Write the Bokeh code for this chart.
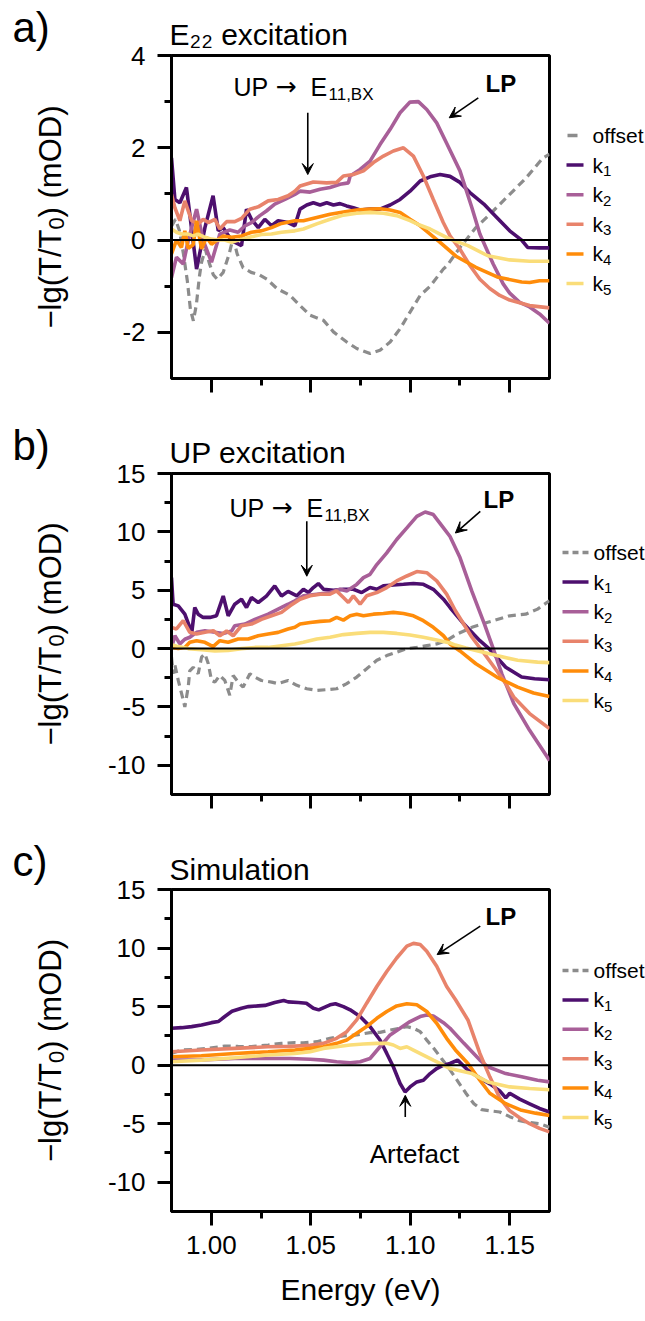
import math
from bokeh.plotting import figure
from bokeh.layouts import column, row
from bokeh.models import Label, Arrow, VeeHead, Span, FixedTicker, Range1d, Title
from bokeh.embed import file_html
from bokeh.resources import INLINE

FONT = "Liberation Sans"

# ---------------- data (energy eV, -lg(T/T0) mOD) ----------------
series_names = ["offset", "k1", "k2", "k3", "k4", "k5"]
energy_ticks = [1.00, 1.05, 1.10, 1.15]
energy_minor = [1.025, 1.075, 1.125]
a_yticks = [-2, 0, 2, 4]
a_yminor = [-1, 1, 3]
bc_yticks = [-10, -5, 0, 5, 10, 15]
bc_yminor = [-7.5, -2.5, 2.5, 7.5, 12.5]
titles = ["E\u2082\u2082 excitation", "UP excitation", "Simulation"]
letters = ["a)", "b)", "c)"]

# Panel a) E22 excitation
a_offset = [(0.980, 0.3), (0.982, 0.45), (0.984, 0.2), (0.986, -0.3), (0.988, -0.9), (0.9895, -1.5),
            (0.991, -1.75), (0.9925, -1.4), (0.994, -0.8), (0.995, -0.5), (0.997, -0.2), (0.999, -0.5),
            (1.001, -0.75), (1.003, -0.85), (1.006, -0.7), (1.009, -0.3), (1.011, 0.05), (1.013, -0.3),
            (1.016, -0.6), (1.020, -0.7), (1.024, -0.75), (1.028, -0.85), (1.033, -1.05), (1.0396, -1.2),
            (1.0446, -1.42), (1.0497, -1.63), (1.0564, -1.74), (1.0614, -1.99), (1.0681, -2.21),
            (1.0731, -2.35), (1.0798, -2.46), (1.0848, -2.39), (1.0899, -2.21), (1.0949, -1.92),
            (1.0999, -1.56), (1.105, -1.2), (1.11, -1.0), (1.1166, -0.63), (1.1186, -0.55), (1.125, -0.16),
            (1.133, 0.27), (1.1417, 0.63), (1.150, 0.99), (1.1583, 1.35), (1.1667, 1.78), (1.170, 1.86)]
a_k1 = [(0.980, 1.78), (0.9817, 0.88), (0.9842, 0.81), (0.9875, 1.14), (0.9892, 0.56), (0.9926, -0.63),
        (0.9968, 0.27), (1.0009, 0.96), (1.0035, 0.2), (1.006, 0.27), (1.0102, -0.01), (1.0152, -0.12),
        (1.0177, 0.67), (1.0202, 0.45), (1.0236, 0.27), (1.0269, 0.45), (1.0303, 0.31), (1.0336, 0.42),
        (1.0386, 0.38), (1.0420, 0.31), (1.0446, 0.67), (1.048, 0.76), (1.0513, 0.81), (1.0547, 0.76),
        (1.058, 0.81), (1.0614, 0.76), (1.0647, 0.79), (1.068, 0.74), (1.0714, 0.70), (1.0748, 0.65),
        (1.0798, 0.67), (1.0848, 0.67), (1.0899, 0.76), (1.0949, 0.88), (1.0999, 1.06), (1.105, 1.28),
        (1.11, 1.37), (1.115, 1.42), (1.12, 1.38), (1.125, 1.25), (1.130, 1.03), (1.137, 0.78),
        (1.1435, 0.49), (1.150, 0.2), (1.156, 0.0), (1.159, -0.16), (1.165, -0.17), (1.170, -0.17)]
a_k2 = [(0.980, -0.81), (0.9825, -0.37), (0.9859, -0.52), (0.9884, -0.01), (0.9926, 0.67), (0.9959, 0.0),
        (1.0001, -0.48), (1.0043, 0.13), (1.0093, 0.22), (1.0135, 0.17), (1.0169, 0.31), (1.0202, 0.38),
        (1.0244, 0.53), (1.0277, 0.63), (1.0319, 0.78), (1.037, 0.88), (1.042, 0.99), (1.0446, 1.06),
        (1.0497, 1.04), (1.0547, 1.10), (1.0597, 1.14), (1.0647, 1.21), (1.0689, 1.24), (1.0698, 1.39),
        (1.0748, 1.53), (1.0798, 1.71), (1.0848, 2.07), (1.0899, 2.40), (1.0949, 2.76), (1.0999, 2.99),
        (1.1041, 3.0), (1.1083, 2.83), (1.1133, 2.54), (1.1183, 2.1), (1.125, 1.5), (1.131, 0.7),
        (1.135, 0.13), (1.1417, -0.52), (1.1467, -0.95), (1.150, -1.15), (1.155, -1.35), (1.160, -1.45),
        (1.165, -1.6), (1.170, -1.8)]
a_k3 = [(0.980, 0.99), (0.9817, 0.7), (0.9842, 0.42), (0.9867, 0.85), (0.9901, 0.42), (0.9934, 0.35),
        (0.9959, 0.45), (0.9985, 0.38), (1.0018, 0.45), (1.0043, 0.24), (1.0077, 0.4), (1.0118, 0.4),
        (1.0152, 0.47), (1.0194, 0.67), (1.0236, 0.72), (1.0286, 0.85), (1.0336, 0.88), (1.0386, 0.96),
        (1.042, 1.06), (1.0446, 1.17), (1.0513, 1.26), (1.058, 1.24), (1.063, 1.25), (1.0664, 1.39),
        (1.0714, 1.42), (1.0765, 1.5), (1.0815, 1.68), (1.0865, 1.82), (1.0915, 1.93), (1.0966, 2.0),
        (1.1016, 1.82), (1.1066, 1.39), (1.1116, 0.88), (1.1166, 0.38), (1.12, 0.09), (1.125, -0.2),
        (1.130, -0.55), (1.135, -0.85), (1.140, -1.05), (1.145, -1.2), (1.150, -1.3), (1.160, -1.42),
        (1.170, -1.47)]
a_k4 = [(0.980, -0.3), (0.9825, 0.0), (0.985, -0.16), (0.9867, 0.2), (0.9884, -0.18), (0.9909, -0.1),
        (0.9926, 0.42), (0.9951, -0.19), (0.9976, 0.06), (1.0001, -0.09), (1.0026, -0.01), (1.006, 0.09),
        (1.0102, 0.06), (1.0152, 0.09), (1.0202, 0.17), (1.0252, 0.2), (1.0303, 0.27), (1.0353, 0.36),
        (1.042, 0.42), (1.0463, 0.42), (1.053, 0.49), (1.0597, 0.56), (1.0664, 0.61), (1.0731, 0.65),
        (1.0798, 0.67), (1.0848, 0.68), (1.0899, 0.65), (1.0949, 0.6), (1.0999, 0.45), (1.105, 0.31),
        (1.11, 0.13), (1.115, -0.05), (1.123, -0.35), (1.133, -0.59), (1.1437, -0.8), (1.156, -0.91),
        (1.160, -0.92), (1.165, -0.88), (1.170, -0.88)]
a_k5 = [(0.980, 0.24), (0.9825, 0.17), (0.985, 0.13), (0.9884, 0.13), (0.9909, 0.09), (0.9934, 0.13),
        (0.9968, 0.06), (1.0001, 0.02), (1.0035, 0.0), (1.0068, 0.0), (1.0102, -0.05), (1.0152, 0.02),
        (1.0202, 0.07), (1.0252, 0.12), (1.0303, 0.13), (1.0353, 0.17), (1.042, 0.2), (1.0463, 0.24),
        (1.053, 0.35), (1.0597, 0.45), (1.0664, 0.54), (1.0731, 0.58), (1.0798, 0.6), (1.0865, 0.58),
        (1.0932, 0.53), (1.0999, 0.42), (1.105, 0.32), (1.11, 0.24), (1.115, 0.13), (1.12, 0.02),
        (1.129, -0.12), (1.139, -0.34), (1.150, -0.43), (1.160, -0.46), (1.170, -0.46)]

# Panel b) UP excitation
b_offset = [(0.980, -0.74), (0.9808, -2.16), (0.9817, -1.4), (0.9834, -2.73), (0.9859, -4.4), (0.9867, -5.0),
            (0.9884, -3.3), (0.9892, -1.9), (0.9909, -1.6), (0.9934, -2.16), (0.9951, -0.74), (0.9968, -0.45),
            (0.9985, -1.3), (1.0001, -2.73), (1.0018, -2.87), (1.0043, -2.3), (1.0068, -2.73), (1.0093, -4.0),
            (1.011, -2.3), (1.0135, -2.87), (1.016, -3.3), (1.0194, -2.16), (1.0219, -2.45), (1.0252, -2.73),
            (1.0303, -2.87), (1.0336, -3.0), (1.0386, -2.73), (1.043, -3.15), (1.048, -3.44), (1.053, -3.58),
            (1.058, -3.52), (1.063, -3.44), (1.0681, -3.0), (1.0731, -2.44), (1.0781, -1.73), (1.0832, -1.0),
            (1.0882, -0.6), (1.0932, -0.31), (1.0983, 0.0), (1.1033, 0.1), (1.1083, 0.25), (1.1133, 0.4),
            (1.1183, 0.68), (1.123, 1.2), (1.131, 1.82), (1.139, 2.25), (1.150, 2.81), (1.158, 2.95),
            (1.164, 3.38), (1.170, 4.1)]
b_k1 = [(0.980, 6.08), (0.9808, 3.8), (0.9834, 3.66), (0.9867, 2.95), (0.9892, 1.82), (0.9901, 1.25),
        (0.9917, 3.52), (0.9934, 2.95), (0.9959, 2.67), (0.9993, 2.67), (1.0026, 2.81), (1.006, 4.5),
        (1.0085, 2.81), (1.0118, 3.8), (1.0152, 4.23), (1.0177, 3.52), (1.0202, 4.37), (1.0236, 3.95),
        (1.0277, 4.5), (1.0319, 5.37), (1.0353, 4.5), (1.0386, 4.9), (1.043, 4.52), (1.0463, 5.08),
        (1.0488, 4.8), (1.0513, 5.23), (1.0538, 5.57), (1.0564, 5.08), (1.0614, 5.0), (1.0664, 5.08),
        (1.0714, 5.08), (1.0756, 4.8), (1.0798, 5.23), (1.0832, 5.08), (1.0865, 5.37), (1.0915, 5.45),
        (1.0966, 5.51), (1.1016, 5.57), (1.1066, 5.51), (1.1116, 5.08), (1.1167, 4.23), (1.12, 3.52),
        (1.127, 2.1), (1.135, 0.68), (1.1396, 0.0), (1.148, -1.6), (1.156, -2.44), (1.1625, -2.58),
        (1.170, -2.67)]
b_k2 = [(0.980, 0.1), (0.9817, 1.1), (0.9842, 0.4), (0.9867, 0.8), (0.9892, 0.97), (0.9926, 1.39),
        (0.9968, 1.53), (1.0018, 1.4), (1.006, 1.3), (1.0102, 1.5), (1.0118, 1.96), (1.0169, 2.1),
        (1.0219, 2.5), (1.0286, 2.95), (1.0336, 3.38), (1.0386, 3.8), (1.042, 4.1), (1.0463, 4.52),
        (1.053, 4.66), (1.0597, 4.8), (1.0647, 5.08), (1.0681, 4.94), (1.0731, 5.5), (1.0765, 6.08),
        (1.0798, 6.36), (1.0832, 7.2), (1.0882, 8.2), (1.0932, 9.35), (1.0983, 10.34), (1.1033, 11.33),
        (1.1075, 11.7), (1.1116, 11.48), (1.1167, 10.34), (1.12, 9.6), (1.125, 7.8), (1.131, 4.9),
        (1.1373, 2.1), (1.1415, 0.1), (1.146, -2.15), (1.152, -4.7), (1.160, -7.0), (1.1688, -9.27),
        (1.170, -9.6)]
b_k3 = [(0.980, 1.82), (0.9825, 1.68), (0.9859, 2.39), (0.9892, 1.39), (0.9926, 1.25), (0.9968, 1.4),
        (1.001, 1.53), (1.0043, 1.1), (1.0077, 1.5), (1.011, 1.1), (1.0152, 1.96), (1.0202, 2.1),
        (1.0252, 2.5), (1.0303, 2.81), (1.0353, 3.1), (1.0396, 3.66), (1.0446, 4.23), (1.0497, 4.52),
        (1.0547, 4.66), (1.0597, 4.66), (1.063, 4.94), (1.0664, 4.37), (1.0689, 3.95), (1.0714, 4.52),
        (1.0748, 3.8), (1.0781, 4.52), (1.0832, 4.8), (1.0882, 5.23), (1.0932, 5.8), (1.0983, 6.22),
        (1.1033, 6.6), (1.1083, 6.5), (1.1133, 5.8), (1.1183, 4.66), (1.1227, 3.24), (1.131, 0.97),
        (1.1373, -0.45), (1.1435, -1.9), (1.148, -3.0), (1.152, -4.15), (1.160, -5.57), (1.170, -6.85)]
b_k4 = [(0.980, 0.1), (0.9834, 0.0), (0.9867, 0.1), (0.9892, 0.54), (0.9926, 0.68), (0.9968, 0.54),
        (1.0009, 0.17), (1.0043, 0.68), (1.0085, 0.54), (1.0135, 0.82), (1.0186, 0.82), (1.0236, 1.1),
        (1.0286, 1.25), (1.0336, 1.39), (1.0386, 1.68), (1.042, 1.82), (1.0446, 2.1), (1.0497, 2.24),
        (1.0547, 2.33), (1.0597, 2.39), (1.063, 2.67), (1.0664, 2.44), (1.0698, 2.81), (1.0731, 2.95),
        (1.0765, 2.81), (1.0815, 2.95), (1.0865, 3.0), (1.0915, 3.1), (1.0966, 3.0), (1.1016, 2.81),
        (1.1066, 2.39), (1.1116, 1.82), (1.1167, 1.1), (1.12, 0.4), (1.125, -0.2), (1.133, -1.3),
        (1.1435, -2.44), (1.154, -3.3), (1.162, -3.8), (1.170, -4.1)]
b_k5 = [(0.980, 0.34), (0.9834, 0.17), (0.9884, 0.0), (0.9951, -0.1), (1.0018, -0.2), (1.0085, -0.15),
        (1.0152, 0.0), (1.0219, 0.1), (1.0286, 0.1), (1.0353, 0.25), (1.042, 0.4), (1.0463, 0.54),
        (1.053, 0.82), (1.0597, 0.97), (1.0664, 1.2), (1.0731, 1.3), (1.0798, 1.39), (1.0865, 1.39),
        (1.0932, 1.3), (1.0999, 1.17), (1.1066, 0.97), (1.1133, 0.74), (1.12, 0.48), (1.1227, 0.3),
        (1.128, 0.05), (1.133, -0.17), (1.1435, -0.6), (1.154, -1.0), (1.164, -1.16), (1.170, -1.2)]

# Panel c) Simulation
c_offset = [(0.980, 1.0), (0.985, 1.29), (0.9918, 1.34), (0.9985, 1.43), (1.0068, 1.63), (1.0135, 1.6),
            (1.0202, 1.58), (1.0286, 1.72), (1.0353, 1.86), (1.042, 1.92), (1.0463, 1.9), (1.053, 2.0),
            (1.0597, 2.29), (1.0664, 2.49), (1.0731, 2.58), (1.0798, 2.78), (1.0848, 2.8), (1.0899, 3.0),
            (1.0949, 3.15), (1.0983, 3.29), (1.1016, 3.15), (1.105, 2.86), (1.108, 2.2), (1.112, 1.4),
            (1.116, 0.5), (1.120, -0.4), (1.124, -1.4), (1.128, -2.4), (1.132, -3.3), (1.136, -3.8),
            (1.140, -3.9), (1.145, -4.0), (1.150, -4.4), (1.155, -4.75), (1.160, -4.9), (1.165, -5.0),
            (1.170, -5.3)]
c_k1 = [(0.980, 3.15), (0.9851, 3.2), (0.9901, 3.29), (0.9951, 3.43), (1.0001, 3.63), (1.0035, 3.72),
        (1.0068, 4.15), (1.0104, 4.6), (1.0152, 4.86), (1.0187, 5.0), (1.0236, 5.06), (1.027, 5.1),
        (1.0319, 5.35), (1.0364, 5.52), (1.0386, 5.4), (1.0437, 5.35), (1.0478, 5.29), (1.0513, 4.86),
        (1.054, 4.72), (1.0597, 5.15), (1.0624, 5.24), (1.0664, 5.0), (1.0698, 4.72), (1.0748, 4.15),
        (1.0798, 3.29), (1.0848, 2.15), (1.0882, 1.0), (1.0915, -0.14), (1.0949, -1.57), (1.0974, -2.29),
        (1.0999, -1.86), (1.1033, -1.43), (1.1066, -1.29), (1.11, -0.72), (1.1133, -0.29), (1.1167, 0.0),
        (1.12, 0.14), (1.1238, 0.43), (1.129, -0.43), (1.135, -1.1), (1.140, -1.6), (1.145, -2.2),
        (1.148, -2.8), (1.150, -2.4), (1.155, -2.9), (1.160, -3.3), (1.165, -3.7), (1.170, -4.0)]
c_k2 = [(0.980, 0.43), (0.995, 0.45), (1.0118, 0.57), (1.0286, 0.57), (1.0396, 0.57), (1.0497, 0.5),
        (1.0564, 0.43), (1.063, 0.29), (1.0698, 0.2), (1.0748, 0.29), (1.0798, 0.57), (1.0848, 1.57),
        (1.0899, 2.58), (1.0949, 3.15), (1.0999, 3.72), (1.105, 4.15), (1.1083, 4.29), (1.1116, 4.2),
        (1.1167, 3.63), (1.12, 3.15), (1.127, 1.86), (1.135, 0.43), (1.139, -0.14), (1.148, -0.72),
        (1.156, -1.0), (1.164, -1.29), (1.170, -1.43)]
c_k3 = [(0.980, 1.14), (0.995, 1.29), (1.0118, 1.43), (1.0286, 1.57), (1.0396, 1.6), (1.0497, 1.7),
        (1.0564, 1.86), (1.063, 2.29), (1.0681, 2.86), (1.0731, 3.86), (1.0781, 5.29), (1.0832, 6.72),
        (1.0882, 8.0), (1.0932, 9.15), (1.0983, 10.16), (1.1016, 10.4), (1.105, 10.3), (1.1083, 9.73),
        (1.1133, 8.44), (1.1183, 6.72), (1.1227, 5.6), (1.129, 3.86), (1.135, 1.0), (1.140, -1.0),
        (1.145, -2.8), (1.150, -3.9), (1.155, -4.5), (1.160, -5.0), (1.165, -5.4), (1.170, -5.7)]
c_k4 = [(0.980, 0.72), (0.995, 0.8), (1.0118, 1.0), (1.0286, 1.14), (1.042, 1.29), (1.0497, 1.43),
        (1.0564, 1.57), (1.063, 1.86), (1.0681, 2.15), (1.0731, 2.72), (1.0781, 3.29), (1.0832, 4.0),
        (1.0882, 4.58), (1.0932, 5.06), (1.0983, 5.24), (1.1033, 5.15), (1.1083, 4.58), (1.1133, 3.58),
        (1.1183, 2.29), (1.1227, 1.3), (1.129, 0.14), (1.135, -1.29), (1.140, -2.4), (1.148, -3.29),
        (1.156, -3.86), (1.163, -4.1), (1.170, -4.3)]
c_k5 = [(0.980, 0.29), (0.995, 0.43), (1.0118, 0.63), (1.0286, 0.86), (1.042, 1.0), (1.0497, 1.14),
        (1.0564, 1.43), (1.063, 1.57), (1.0698, 1.72), (1.0765, 1.8), (1.0832, 1.86), (1.0882, 1.86),
        (1.0915, 1.72), (1.0949, 1.43), (1.0983, 1.57), (1.1016, 1.29), (1.1066, 0.86), (1.1116, 0.43),
        (1.1167, 0.0), (1.12, -0.29), (1.131, -0.72), (1.139, -1.43), (1.150, -1.86), (1.160, -2.0),
        (1.170, -2.1)]

# annotation arrows (data coords: x_start, y_start, x_end, y_end)
a_arrows = [(1.0485, 2.76, 1.0485, 1.42), (1.1342, 3.08, 1.1196, 2.65)]
b_arrows = [(1.048, 10.9, 1.048, 6.2), (1.1352, 11.76, 1.1227, 9.9)]
c_arrows = [(1.1352, 11.87, 1.1135, 9.44), (1.0975, -4.44, 1.0975, -2.58)]

colors = {"offset": "#8c8c8c", "k1": "#4d0f6e", "k2": "#a85f98", "k3": "#e8836b",
          "k4": "#ff8c0a", "k5": "#fadd79"}

# ---------------- geometry (page pixels) ----------------
XR = (0.98, 1.17)
FL, FR = 171, 549          # plot frame left / right
LW = 90                    # width of left strip (panel letter + y label)
RX = 555                   # left edge of legend strip
PW = 645

panels = [
    dict(name="a", g0=0, H=420, fh=323, ftop=55, ylo=-3, yhi=4, tstand=10,
         data=[a_offset, a_k1, a_k2, a_k3, a_k4, a_k5], arrows=a_arrows,
         yt=a_yticks, ym=a_yminor, leg0=135, legd=29.6, short=True),
    dict(name="b", g0=420, H=414, fh=321, ftop=473, ylo=-12.5, yhi=15, tstand=10,
         data=[b_offset, b_k1, b_k2, b_k3, b_k4, b_k5], arrows=b_arrows,
         yt=bc_yticks, ym=bc_yminor, leg0=552, legd=29.6, short=False),
    dict(name="c", g0=834, H=487, fh=322, ftop=889, ylo=-12.5, yhi=15, tstand=8,
         data=[c_offset, c_k1, c_k2, c_k3, c_k4, c_k5], arrows=c_arrows,
         yt=bc_yticks, ym=bc_yminor, leg0=970, legd=29.4, short=False),
]
for P in panels:
    P["fbot"] = P["ftop"] + P["fh"]
    P["bt"] = P["ftop"] - P["g0"]
    P["bb"] = P["g0"] + P["H"] - P["fbot"]

AW = {' ': 278, '(': 333, ')': 333, '/': 278, ',': 278, '.': 278, '-': 333, '\u2212': 584,
      'A': 667, 'B': 667, 'D': 722, 'E': 667, 'L': 556, 'O': 778, 'P': 667,
      'S': 667, 'T': 611, 'U': 722, 'X': 667, 'V': 667, 'a': 556, 'c': 500, 'e': 556, 'f': 278,
      'g': 556, 'i': 222, 'k': 500, 'l': 222, 'm': 833, 'n': 556, 'o': 556, 'r': 333, 's': 500,
      't': 278, 'u': 556, 'x': 500, 'y': 500}


def tw(s, size):
    return sum(AW.get(ch, 556) for ch in s) / 1000.0 * size


def mk_label(x, y, s, size, bold=False, align="left", baseline="middle", angle=0.0, font=FONT):
    return Label(x=x, y=y, text=s, text_font=font, text_font_size=f"{size}px",
                 text_font_style="bold" if bold else "normal", text_align=align,
                 text_baseline=baseline, angle=angle, text_color="black")


def mid_from_base(py, size):
    """page y of the em-box middle for text whose baseline sits at page y = py"""
    return py - 0.35 * size


class Strip:
    """A plain figure whose frame fills it; positions given in page pixels."""

    def __init__(self, x0, y0, w, h):
        self.x0, self.y0, self.w, self.h = x0, y0, w, h
        f = figure(width=w, height=h, x_range=Range1d(0, w), y_range=Range1d(0, h),
                   min_border=0, x_axis_type=None, y_axis_type=None, toolbar_location=None,
                   title_location=None, output_backend="svg")
        f.outline_line_color = None
        f.background_fill_color = "white"
        f.border_fill_color = "white"
        f.grid.visible = False
        self.f = f

    def X(self, px):
        return px - self.x0

    def Y(self, py):
        return self.h - (py - self.y0)

    def text(self, px, py, s, size, base=True, **kw):
        y = mid_from_base(py, size) if base else py
        self.f.add_layout(mk_label(self.X(px), self.Y(y), s, size, **kw))

    def rtext(self, px, py, s, size, **kw):
        self.f.add_layout(mk_label(self.X(px), self.Y(py), s, size, baseline="alphabetic",
                                   angle=math.pi / 2, **kw))

    def seg(self, px0, px1, py, color, dash="solid", width=3.5):
        self.f.segment(x0=[self.X(px0)], y0=[self.Y(py)], x1=[self.X(px1)], y1=[self.Y(py)],
                       line_color=color, line_width=width, line_dash=dash)


def main_X(px):
    return XR[0] + (px - FL) / (FR - FL) * (XR[1] - XR[0])


def main_Y(py, P):
    return P["yhi"] - (py - P["ftop"]) / (P["fbot"] - P["ftop"]) * (P["yhi"] - P["ylo"])


blocks = []
for idx, P in enumerate(panels):
    p = figure(frame_width=FR - FL, frame_height=P["fh"],
               x_range=Range1d(*XR), y_range=Range1d(P["ylo"], P["yhi"]),
               output_backend="svg", toolbar_location=None, title_location=None,
               min_border_left=FL - LW, min_border_right=RX - FR,
               min_border_top=P["bt"], min_border_bottom=P["bb"])
    p.add_layout(Title(text=titles[idx], align="left", offset=-2, standoff=P["tstand"],
                       text_font=FONT, text_font_size="30px", text_font_style="normal",
                       text_color="black"), "above")
    p.xgrid.visible = False
    p.ygrid.visible = False
    p.background_fill_color = "white"
    p.border_fill_color = "white"
    p.outline_line_color = "black"
    p.outline_line_width = 3

    for ax in (p.xaxis[0], p.yaxis[0]):
        ax.axis_line_width = 3
        ax.axis_line_color = "black"
        ax.major_tick_line_width = 3
        ax.minor_tick_line_width = 3
        ax.major_tick_in = 0
        ax.minor_tick_in = 0
        ax.major_tick_out = 14
        ax.minor_tick_out = 7
        ax.major_label_text_font = FONT
        ax.major_label_text_color = "black"
        ax.major_label_text_font_size = "26px"

    p.xaxis.ticker = FixedTicker(ticks=energy_ticks, minor_ticks=energy_minor)
    p.yaxis.ticker = FixedTicker(ticks=P["yt"], minor_ticks=P["ym"])
    p.yaxis.major_label_overrides = {v: (str(v) if v >= 0 else "-" + str(-v)) for v in P["yt"]}
    p.yaxis.major_label_standoff = 12
    if P["name"] == "c":
        p.xaxis.major_label_overrides = {v: f"{v:.2f}" for v in energy_ticks}
        p.xaxis.major_label_standoff = 10
        p.xaxis.axis_label = "Energy (eV)"
        p.xaxis.axis_label_text_font = FONT
        p.xaxis.axis_label_text_font_size = "30px"
        p.xaxis.axis_label_text_font_style = "normal"
        p.xaxis.axis_label_text_color = "black"
        p.xaxis.axis_label_standoff = 16
    else:
        p.xaxis.major_label_text_font_size = "1px"
        p.xaxis.major_label_text_alpha = 0
        p.xaxis.major_label_standoff = 0

    for name, data in zip(series_names, P["data"]):
        xs = [d[0] for d in data]
        ys = [d[1] for d in data]
        if name == "offset":
            p.line(xs, ys, line_color=colors[name], line_width=3.2, line_dash="8 5")
        else:
            p.line(xs, ys, line_color=colors[name], line_width=3.6)

    p.add_layout(Span(location=0, dimension="width", line_color="black", line_width=2))

    for (x0, y0, x1, y1) in P["arrows"]:
        p.add_layout(Arrow(end=VeeHead(size=11, fill_color="black", line_color="black", line_width=1),
                           x_start=x0, y_start=y0, x_end=x1, y_end=y1,
                           line_color="black", line_width=1.6))

    # strips
    left = Strip(0, P["g0"], LW, P["H"])
    right = Strip(RX, P["g0"], PW - RX, P["H"])

    # legend
    for i, name in enumerate(series_names):
        py = P["leg0"] + i * P["legd"]
        if P["short"]:
            if name == "offset":
                right.seg(567, 577, py, colors[name])
            else:
                right.seg(566, 583, py, colors[name])
            tx = 592
        else:
            if name == "offset":
                right.seg(562, 588, py, colors[name], dash="6 4")
            else:
                right.seg(562, 588, py, colors[name])
            tx = 593
        if name == "offset":
            right.text(tx, py, "offset", 21, base=False)
        else:
            right.text(tx, py, "k", 21, base=False)
            right.text(tx + tw("k", 21), py + 6, name[1], 15, base=False)

    # panel letter
    left.text(12, P["ftop"] - 13, letters[idx], 42)

    # y axis label  −lg(T/T0) (mOD)
    fs = 31
    s1, s2, s3 = "\u2212lg(T/T", "0", ") (mOD)"
    w1, w2, w3 = tw(s1, fs), tw(s2, fs * 0.7), tw(s3, fs)
    center = (P["ftop"] + P["fbot"]) / 2.0
    start = center + (w1 + w2 + w3) / 2.0
    bx = 50
    left.rtext(bx, start, s1, fs)
    left.rtext(bx + 6, start - w1, s2, round(fs * 0.7))
    left.rtext(bx, start - w1 - w2, s3, fs)

    P["main"] = p
    # each figure wrapped in its own column so that plot frames are not aligned across the row
    blocks.append(row(column(left.f), column(p), column(right.f), spacing=0))

Pa, Pb, Pc = panels


def main_text(P, px, py, s, size, **kw):
    P["main"].add_layout(mk_label(main_X(px), main_Y(mid_from_base(py, size), P), s, size, **kw))


# annotations panel a
main_text(Pa, 233, 95, "UP", 25)
main_text(Pa, 275, 95, "\u2192", 25, font="DejaVu Sans")
main_text(Pa, 310, 95, "E", 25)
main_text(Pa, 328, 100, "11,BX", 17)
main_text(Pa, 485, 91, "LP", 24, bold=True)
# annotations panel b
main_text(Pb, 229, 516, "UP", 25)
main_text(Pb, 271, 516, "\u2192", 25, font="DejaVu Sans")
main_text(Pb, 306, 516, "E", 25)
main_text(Pb, 324, 521, "11,BX", 17)
main_text(Pb, 483, 507, "LP", 24, bold=True)
# annotations panel c
main_text(Pc, 485, 924, "LP", 24, bold=True)
main_text(Pc, 414, 1163, "Artefact", 26, align="center")

layout = column(*blocks, spacing=0)
open("out.html", "w").write(file_html(layout, INLINE))
